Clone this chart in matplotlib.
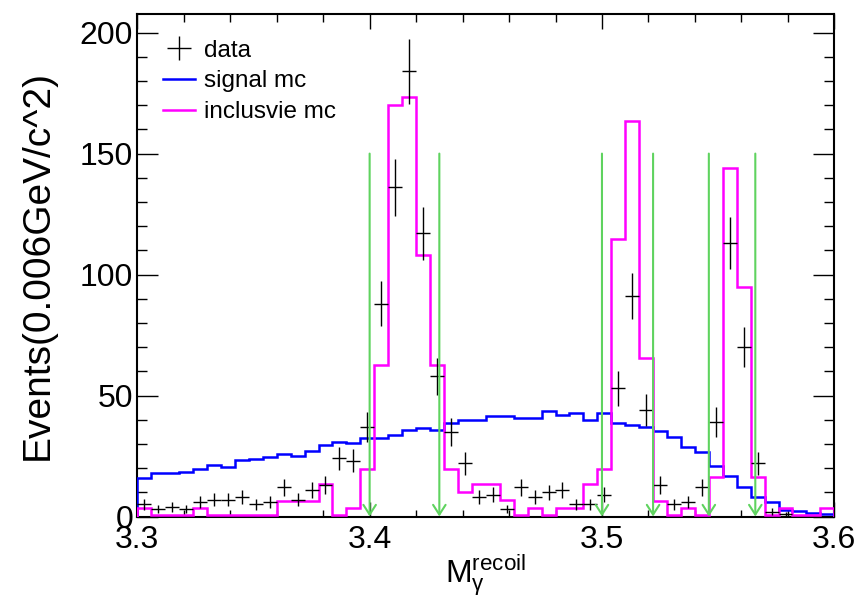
import numpy as np
import matplotlib
matplotlib.use('Agg')
import matplotlib.pyplot as plt
from matplotlib.ticker import MultipleLocator

# ---------------- data ----------------
x_min, x_max, n_bins = 3.3, 3.6, 50

data_counts = [5, 3, 4, 3, 6, 7, 7, 8, 5, 6,
               12, 7, 11, 13, 24, 23, 37, 88, 136, 184,
               117, 58, 35, 22, 8, 9, 3, 12, 8, 10,
               11, 5, 5, 9, 53, 91, 44, 13, 5, 6,
               12, 39, 113, 70, 22, 2, 1, 0, 0, 0]

signal_mc = [16.0, 17.8, 18.1, 18.5, 19.6, 21.2, 20.5, 23.4, 23.8, 24.5,
             25.9, 25.0, 26.9, 29.7, 30.8, 30.4, 32.6, 32.6, 33.7, 35.8,
             36.5, 35.8, 38.6, 39.7, 39.8, 41.7, 41.7, 40.8, 40.8, 43.6,
             41.9, 42.9, 39.7, 42.6, 38.6, 37.8, 36.8, 35.3, 32.7, 28.8,
             26.8, 20.8, 16.7, 12.3, 8.2, 6.0, 2.8, 2.3, 1.6, 0.9]

inclusive_mc = [3.4, 0.6, 0.6, 0.6, 3.4, 0.6, 0.6, 0.6, 0.6, 0.6,
                6.5, 6.5, 6.5, 13.3, 0.6, 3.7, 19.6, 62.6, 170.1, 173.3,
                108.1, 62.6, 19.6, 10.2, 13.3, 13.3, 6.8, 0.6, 3.4, 0.6,
                3.7, 3.7, 13.3, 19.6, 114.7, 163.6, 65.6, 6.5, 0.6, 3.7,
                0.6, 16.5, 143.9, 94.9, 16.5, 0.6, 3.7, 0.6, 0.6, 3.7]

cut_positions = [3.400, 3.430, 3.500, 3.522, 3.546, 3.566]
cut_height = 150

x_ticks = [3.3, 3.4, 3.5, 3.6]
x_tick_labels = ['3.3', '3.4', '3.5', '3.6']
y_ticks = [0, 50, 100, 150, 200]
y_tick_labels = ['0', '50', '100', '150', '200']
y_max = 207.7

legend_labels = ['data', 'signal mc', 'inclusvie mc']
x_title = r'$\mathrm{M}_{\mathrm{γ}}^{\mathrm{recoil}}$'
y_title = 'Events(0.006GeV/c^2)'

# ---------------- style ----------------
plt.rcParams['font.family'] = ['Liberation Sans', 'DejaVu Sans']
plt.rcParams['mathtext.fontset'] = 'custom'
plt.rcParams['mathtext.rm'] = 'Liberation Sans'
plt.rcParams['mathtext.it'] = 'Liberation Sans:italic'
plt.rcParams['mathtext.bf'] = 'Liberation Sans:bold'

W, H = 861, 597
fig = plt.figure(figsize=(W / 100, H / 100), dpi=100)
L, R, T, B = 137.3, 834.3, 14.0, 516.5
ax = fig.add_axes([L / W, 1 - B / H, (R - L) / W, (B - T) / H])

edges = np.linspace(x_min, x_max, n_bins + 1)
centers = 0.5 * (edges[:-1] + edges[1:])
half_w = 0.5 * (edges[1] - edges[0])

counts = np.array(data_counts, dtype=float)
mask = counts > 0

ax.stairs(signal_mc, edges, baseline=0, color='#0000ff', linewidth=1.8,
          label=legend_labels[1], zorder=3)
ax.stairs(inclusive_mc, edges, baseline=0, color='#ff00ff', linewidth=1.8,
          label=legend_labels[2], zorder=3)
ax.errorbar(centers[mask], counts[mask], xerr=half_w, yerr=np.sqrt(counts[mask]),
            fmt='none', ecolor='black', elinewidth=1.0, capsize=0,
            label=legend_labels[0], zorder=4)

for xc in cut_positions:
    ax.annotate('', xy=(xc, 0), xytext=(xc, cut_height),
                arrowprops=dict(arrowstyle='->,head_length=0.7,head_width=0.45',
                                color='#5fd35f', lw=1.5, shrinkA=0, shrinkB=0),
                annotation_clip=False, zorder=5)

ax.set_xlim(x_min, x_max)
ax.set_ylim(0, y_max)
ax.set_xticks(x_ticks)
ax.set_xticklabels(x_tick_labels)
ax.set_yticks(y_ticks)
ax.set_yticklabels(y_tick_labels)
ax.xaxis.set_minor_locator(MultipleLocator(0.02))
ax.yaxis.set_minor_locator(MultipleLocator(10))

ax.tick_params(which='both', direction='in', top=True, right=True, width=1.0,
               labelsize=23)
ax.tick_params(axis='x', which='major', length=10.8, pad=6)
ax.tick_params(axis='x', which='minor', length=5.4)
ax.tick_params(axis='y', which='major', length=15, pad=3)
ax.tick_params(axis='y', which='minor', length=7.5)
for s in ax.spines.values():
    s.set_linewidth(1.5)

ax.set_xlabel(x_title, fontsize=23)
ax.xaxis.set_label_coords(0.5, -0.071)
ax.set_ylabel(y_title, fontsize=28)
ax.yaxis.set_label_coords(-0.117, 0.5)

handles, labels = ax.get_legend_handles_labels()
order = [labels.index(l) for l in legend_labels]
leg = ax.legend([handles[i] for i in order], [labels[i] for i in order],
                loc='upper left', bbox_to_anchor=(0.037, 0.949), frameon=False,
                fontsize=17.5, handlelength=1.3, handletextpad=0.4,
                labelspacing=0.36, borderpad=0, borderaxespad=0)

fig.savefig('out.png', dpi=100)
